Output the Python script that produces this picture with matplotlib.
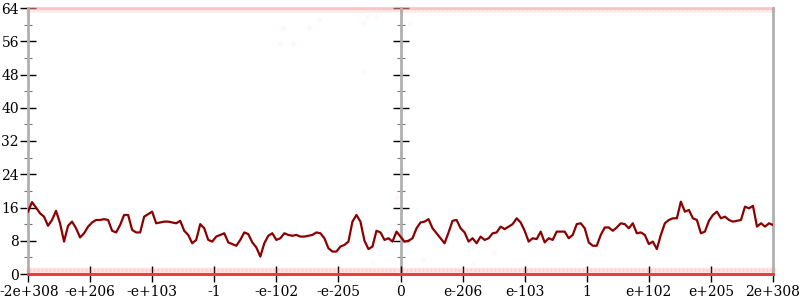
import numpy as np
import matplotlib
matplotlib.use('Agg')
import matplotlib.pyplot as plt
import matplotlib.ticker as ticker
import matplotlib.transforms as mtransforms

# x tick labels (float range, bit-pattern spacing)
tick_pos = [-6, -5, -4, -3, -2, -1, 0, 1, 2, 3, 4, 5, 6]
tick_labels = ['-2e+308', '-e+206', '-e+103', '-1', '-e-102', '-e-205', '0',
               'e-206', 'e-103', '1', 'e+102', 'e+205', '2e+308']

# running count on an even grid from -2e+308 to 2e+308
counts = [
    15.0, 17.3, 16.0, 14.6, 13.8, 11.6, 13.0, 15.2, 12.2, 7.8,
    11.6, 12.6, 11.0, 8.8, 9.8, 11.4, 12.4, 13.0, 13.0, 13.2,
    13.0, 10.4, 10.0, 11.8, 14.2, 14.2, 10.6, 10.0, 10.0, 13.8,
    14.4, 15.0, 12.2, 12.4, 12.6, 12.6, 12.4, 12.2, 12.8, 10.4,
    9.4, 7.4, 8.2, 12.0, 11.0, 8.2, 7.8, 9.0, 9.4,
    9.8, 7.6, 7.2, 6.8, 8.2, 10.0, 9.6, 7.6, 6.4, 4.2,
    7.4, 9.2, 9.8, 8.2, 8.6, 9.8, 9.4, 9.2, 9.4, 9.0,
    9.0, 9.2, 9.4, 10.0, 9.8, 8.6, 6.2, 5.4, 5.4, 6.6,
    7.0, 7.8, 12.6, 14.2, 12.6, 8.0, 6.0, 6.6, 10.4, 10.0,
    8.2, 8.6, 7.8, 10.2, 9.0, 7.8, 8.0,
    8.6, 11.0, 12.4, 12.6, 13.2, 11.0, 9.8, 8.6, 7.4, 10.0,
    12.8, 13.0, 11.0, 10.0, 7.8, 8.6, 7.4, 9.0, 8.2, 8.6,
    9.8, 10.0, 11.4, 10.8, 11.4, 12.0, 13.4, 12.4, 10.4, 7.8,
    8.6, 8.4, 10.2, 7.6, 8.6, 8.2, 10.2, 10.2, 10.2, 8.6,
    9.4, 12.0, 12.2, 11.0, 7.6, 6.8,
    6.8, 9.4, 11.2, 11.2, 10.4, 11.2, 12.2, 12.0, 11.0, 12.2,
    9.8, 10.0, 9.4, 7.2, 7.8, 6.0, 9.4, 12.2, 13.0, 13.4,
    13.4, 17.4, 15.0, 15.4, 13.4, 13.0, 9.8, 10.2, 12.8, 14.2,
    15.0, 13.4, 13.8, 13.0, 12.6, 12.8, 13.0, 16.2, 15.8, 16.4,
    11.4, 12.2, 11.4, 12.2, 11.8,
]

# a few stray faint samples
stray_x = [-1.89, -1.94, -1.73, -1.47, -1.31, -0.60, -0.53, -0.39, -0.58, 0.16,
           -0.05, -0.08, -0.45, 0.37, 1.16, 1.50]
stray_y = [59.2, 55.6, 55.6, 59.2, 61.4, 60.4, 61.8, 61.8, 48.6, 60.4,
           18.5, 16.6, 2.9, 3.4, 2.4, 5.3]

x = np.linspace(-6, 6, len(counts))

plt.rcParams['font.family'] = 'DejaVu Serif'
plt.rcParams['font.size'] = 10

fig = plt.figure(figsize=(8, 3), dpi=100)
ax = fig.add_axes([28 / 800, 26 / 300, 745 / 800, 266 / 300])

# faint sample bands along the top and bottom
ax.scatter(x, np.full(len(x), 63.4), s=16, color='#ff3030', alpha=0.08, lw=0,
           zorder=2, clip_on=False)
ax.scatter(x, np.full(len(x), 0.9), s=18, color='#ff3030', alpha=0.13, lw=0,
           zorder=2, clip_on=False)
ax.scatter(stray_x, stray_y, s=14, color='#ff3030', alpha=0.03, lw=0, zorder=2)
ax.axhline(64, color='#f4a0a0', lw=2, alpha=0.55, zorder=2, clip_on=False)
ax.axhline(0, color='#e8383d', lw=2, zorder=5, clip_on=False)

ax.plot(x, counts, color='#8b0000', lw=1.6, zorder=4)

ax.set_xlim(-6, 6)
ax.set_ylim(0, 64)
ax.set_xticks(tick_pos)
ax.set_xticklabels(tick_labels)
ax.yaxis.set_major_locator(ticker.MultipleLocator(8))
ax.yaxis.set_minor_locator(ticker.MultipleLocator(4))

ax.spines['top'].set_visible(False)
for side in ['left', 'right', 'bottom']:
    ax.spines[side].set_color('#b0b0b0')
    ax.spines[side].set_linewidth(2)

ax.yaxis.set_ticks_position('both')
ax.tick_params(axis='y', which='major', direction='inout', length=11, width=1,
               color='black', pad=1, labelsize=10)
ax.tick_params(axis='y', which='minor', direction='inout', length=6, width=0.8,
               color='#777777')
ax.tick_params(axis='x', which='major', direction='inout', length=12, width=1,
               color='black', pad=2, labelsize=10)

# keep the leftmost label inside the canvas
first = ax.get_xticklabels()[0]
first.set_transform(first.get_transform() +
                    mtransforms.ScaledTranslation(1.5 / 100, 0, fig.dpi_scale_trans))

# middle axis at zero
ax_mid = ax.twinx()
ax_mid.set_ylim(0, 64)
for side in ['top', 'left', 'bottom']:
    ax_mid.spines[side].set_visible(False)
ax_mid.spines['right'].set_position(('data', 0))
ax_mid.spines['right'].set_color('#b0b0b0')
ax_mid.spines['right'].set_linewidth(2)
ax_mid.yaxis.set_major_locator(ticker.MultipleLocator(8))
ax_mid.yaxis.set_minor_locator(ticker.MultipleLocator(4))
ax_mid.tick_params(axis='y', which='major', direction='inout', length=11, width=1,
                   color='black', labelright=False)
ax_mid.tick_params(axis='y', which='minor', direction='inout', length=6, width=0.8,
                   color='#777777', labelright=False)
ax_mid.set_zorder(0)
ax.set_zorder(1)
ax.patch.set_visible(False)

fig.savefig('out.png', dpi=100)
